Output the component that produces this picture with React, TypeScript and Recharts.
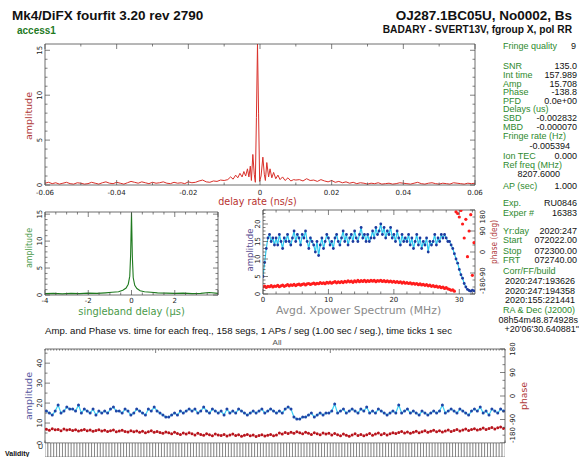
import React from "react";
import { LineChart, Line, XAxis, YAxis, BarChart, Bar } from "recharts";

// ---------- delay rate spectrum (top panel) ----------
const rateLeftStart = -0.06;
const rateRightStart = 0.01;
const rateStep = 0.001;
const rateAmpLeft = [
  0.2, 0.3, 0.15, 0.25, 0.1, 0.2, 0.3, 0.15, 0.1, 0.25,
  0.2, 0.1, 0.15, 0.3, 0.2, 0.1, 0.25, 0.35, 0.2, 0.15,
  0.3, 0.2, 0.1, 0.25, 0.4, 0.3, 0.2, 0.35, 0.25, 0.15,
  0.3, 0.2, 0.25, 0.35, 0.2, 0.15, 0.3, 0.2, 0.25, 0.15,
  0.35, 0.25, 0.3, 0.45, 0.55, 0.35, 0.3, 0.45, 0.4, 0.55,
  0.5,
];
const rateCoreX = [
  -0.009, -0.0082, -0.0075, -0.0068, -0.0062, -0.0056, -0.005, -0.0045, -0.004, -0.0035,
  -0.0031, -0.0027, -0.0024, -0.002, -0.0016, -0.0013, -0.001, -0.0007, -0.0004, -0.0001,
  0.0003, 0.0008, 0.0012, 0.0015, 0.0019, 0.0024, 0.0028, 0.0033, 0.0038, 0.0044,
  0.005, 0.0056, 0.0063, 0.007, 0.0078, 0.0086, 0.0094,
];
const rateCoreAmp = [
  0.6, 0.9, 0.65, 1.1, 0.8, 1.3, 0.9, 1.5, 1.0, 1.8,
  0.9, 2.1, 0.5, 3.4, 1.2, 0.3, 7.5, 15.7, 8.0, 0.4,
  1.0, 3.1, 1.2, 0.5, 2.5, 0.9, 1.8, 0.8, 1.4, 0.7,
  1.1, 0.6, 0.9, 0.5, 0.8, 0.45, 0.6,
];
const rateAmpRight = [
  0.55, 0.6, 0.45, 0.7, 0.5, 0.55, 0.4, 0.6, 0.45, 0.35,
  0.5, 0.3, 0.4, 0.25, 0.35, 0.2, 0.3, 0.15, 0.25, 0.2,
  0.1, 0.2, 0.15, 0.25, 0.1, 0.15, 0.2, 0.1, 0.15, 0.25,
  0.2, 0.15, 0.1, 0.2, 0.3, 0.15, 0.1, 0.2, 0.25, 0.15,
  0.1, 0.2, 0.15, 0.1, 0.25, 0.2, 0.15, 0.1, 0.2, 0.15,
  0.2,
];
const rateTicks = [-0.06, -0.05, -0.04, -0.03, -0.02, -0.01, 0, 0.01, 0.02, 0.03, 0.04, 0.05, 0.06];
const rateMajor = [-0.06, -0.04, -0.02, 0, 0.02, 0.04, 0.06];

// ---------- singleband delay (middle left) ----------
const sbdX = [
  -4, -3.6, -3.2, -2.8, -2.4, -2.0, -1.6, -1.2, -0.9, -0.6,
  -0.4, -0.25, -0.15, -0.08, -0.04, 0, 0.04, 0.08, 0.15, 0.25,
  0.4, 0.6, 0.9, 1.2, 1.6, 2.0, 2.4, 2.8, 3.2, 3.6, 4,
];
const sbdAmp = [
  0.25, 0.3, 0.2, 0.3, 0.25, 0.35, 0.3, 0.4, 0.5, 0.6,
  0.9, 1.3, 2.0, 3.5, 7.5, 15.3, 7.0, 3.2, 1.8, 1.2,
  0.8, 0.6, 0.5, 0.4, 0.35, 0.3, 0.35, 0.25, 0.3, 0.45, 0.3,
];
const sbdTicks = [-4, -3.5, -3, -2.5, -2, -1.5, -1, -0.5, 0, 0.5, 1, 1.5, 2, 2.5, 3, 3.5, 4];
const sbdMajor = [-4, -2, 0, 2, 4];
const sbdLabels = [-4, -2, 0, 2];
const amp15Ticks = [0, 1, 2, 3, 4, 5, 6, 7, 8, 9, 10, 11, 12, 13, 14, 15];
const amp15Major = [0, 5, 10, 15];

// ---------- cross power spectrum (middle right), 0.25 MHz steps ----------
const specStep = 0.25;
const specAmp = [
  5, 9, 13, 16, 17, 15, 16, 14,
  16, 14, 17, 15, 13, 16, 15, 17,
  15, 14, 16, 18, 15, 17, 16, 14,
  17, 16, 18, 15, 13, 16, 15, 14,
  12, 15, 11, 14, 16, 13, 15, 17,
  16, 14, 15, 13, 16, 17, 15, 14,
  16, 18, 15, 17, 14, 16, 17, 15,
  18, 16, 15, 17, 19, 16, 17, 15,
  17, 15, 16, 18, 16, 19, 17, 18,
  20, 17, 19, 16, 18, 17, 19, 16,
  17, 15, 18, 16, 14, 17, 15, 16,
  15, 17, 14, 16, 13, 15, 17, 14,
  16, 13, 15, 14, 16, 12, 15, 14,
  15, 17, 14, 16, 15, 17, 16, 17,
  16, 15, 15, 14, 13, 11.5, 10, 8.8,
  7, 5.5, 4.5, 3, 2, 1.3, 1, 0.8,
  1.1, 0.9,
];
const specPhase = [
  -150, -146, -152, -147, -149, -144, -150, -146,
  -147, -143, -149, -145, -142, -147, -144, -140,
  -145, -141, -143, -139, -144, -140, -138, -142,
  -139, -136, -141, -137, -135, -139, -136, -133,
  -138, -134, -136, -131, -135, -132, -136, -130,
  -133, -129, -134, -130, -127, -132, -128, -131,
  -127, -131, -126, -129, -124, -128, -125, -130,
  -124, -128, -122, -127, -123, -126, -121, -127,
  -123, -126, -121, -125, -122, -127, -123, -125,
  -121, -126, -123, -127, -124, -128, -125, -129,
  -126, -130, -127, -131, -128, -133, -129, -134,
  -131, -135, -132, -137, -134, -138, -135, -140,
  -137, -141, -139, -143, -140, -145, -142, -147,
  -144, -149, -146, -151, -148, -153, -150, -156,
  -153, -158, -160, -164, -162, -168, 172, 165,
  150, 178, 120, 60, 140, -20, 90, 160,
  -100, 40,
];
const mhzTicks = [0, 2, 4, 6, 8, 10, 12, 14, 16, 18, 20, 22, 24, 26, 28, 30, 32];
const mhzMajor = [0, 10, 20, 30];
const amp24Ticks = [0, 1, 2, 3, 4, 5, 6, 7, 8, 9, 10, 11, 12, 13, 14, 15, 16, 17, 18, 19, 20, 21, 22, 23, 24];
const amp24Major = [0, 5, 10, 15, 20];
const phaseTicks = [-180, -150, -120, -90, -60, -30, 0, 30, 60, 90, 120, 150, 180];
const phaseMajor = [-180, -90, 0, 90, 180];

// ---------- amplitude / phase per segment (bottom), 158 segs ----------
const segAmp = [
  16, 15, 14, 16, 19, 15, 16, 18, 17, 17,
  16, 19, 15, 17, 16, 15, 17, 14, 16, 15,
  16, 15, 17, 18, 16, 16, 15, 17, 16, 14,
  15, 17, 16, 15, 14, 17, 16, 18, 16, 15,
  14, 13, 13, 14, 15, 14, 16, 15, 16, 17,
  16, 17, 15, 16, 18, 16, 15, 17, 16, 15,
  16, 14, 17, 15, 16, 15, 17, 16, 15, 14,
  15, 16, 15, 16, 17, 15, 16, 17, 16, 15,
  16, 15, 17, 18, 17, 13, 12, 12, 13, 13,
  14, 15, 13, 14, 15, 14, 15, 15, 16, 19.5,
  15, 16, 17, 15, 16, 17, 16, 15, 17, 16,
  18, 15, 16, 15, 17, 16, 15, 14, 15, 16,
  15, 19, 15, 16, 17, 15, 16, 15, 14, 16,
  15, 14, 15, 16, 15, 16, 19, 15, 16, 17,
  16, 15, 17, 16, 15, 14, 16, 17, 16, 18,
  15, 16, 14, 17, 16, 15, 17, 16,
];
const segPhase = [
  -127, -131, -125, -129, -128, -133, -126, -130, -128, -132,
  -129, -134, -131, -128, -133, -130, -135, -132, -129, -134,
  -131, -136, -133, -130, -137, -134, -131, -136, -138, -133,
  -137, -134, -139, -135, -141, -137, -133, -139, -136, -140,
  -143, -138, -141, -145, -139, -144, -147, -142, -146, -141,
  -145, -149, -143, -147, -150, -145, -148, -152, -146, -149,
  -151, -147, -153, -149, -146, -151, -148, -154, -150, -147,
  -152, -149, -155, -151, -148, -153, -150, -147, -152, -149,
  -142, -146, -140, -144, -139, -143, -137, -141, -145, -139,
  -143, -147, -141, -145, -148, -142, -146, -143, -149, -144,
  -148, -152, -146, -150, -154, -149, -145, -151, -147, -152,
  -148, -144, -150, -146, -142, -148, -144, -149, -145, -141,
  -144, -140, -136, -142, -138, -143, -139, -135, -141, -137,
  -133, -139, -135, -131, -137, -133, -138, -134, -130, -136,
  -132, -128, -134, -130, -126, -132, -128, -125, -130, -127,
  -123, -128, -124, -121, -126, -122, -119, -124,
];
const validFlags =
  "1111111111" + "1111111111" + "1111111111" + "1111111111" + "1111111111" +
  "1111111111" + "1111111111" + "1111111111" + "1111111111" + "1111111111" +
  "1111111111" + "1111111111" + "1111111111" + "1111111111" + "1111111111" +
  "11111111";
const minuteTicks = [38, 98];
const amp47Ticks = [0, 5, 10, 15, 20, 25, 30, 35, 40, 45];
const amp47Major = [0, 10, 20, 30, 40];

// ---------- text panel ----------
const panelLabels = [
  "Fringe quality", "SNR", "Int time", "Amp", "Phase", "PFD", "Delays (us)", "SBD", "MBD",
  "Fringe rate (Hz)", "", "Ion TEC", "Ref freq (MHz)", "", "AP (sec)", "Exp.", "Exper #",
  "Yr:day", "Start", "Stop", "FRT", "Corr/FF/build", "", "", "", "RA & Dec (J2000)", "", "",
];
const panelValues = [
  "9", "135.0", "157.989", "15.708", "-138.8", "0.0e+00", "", "-0.002832", "-0.000070",
  "", "-0.005394", "0.000", "", "8207.6000", "1.000", "RU0846", "16383",
  "2020:247", "072022.00", "072300.00", "072740.00", "", "2020:247:193626", "2020:247:194358",
  "2020:155:221441", "", "08h54m48.874928s", "+20'06'30.640881\"",
];
const panelY = [
  48.5, 68.5, 77.5, 86.5, 95, 103.5, 112, 120.5, 129.5, 139, 148.5, 158.5, 167.5, 176.5,
  188.5, 205.5, 215.5, 234, 242.5, 254, 263, 273.5, 283.5, 293.5, 303, 313, 322.5, 332,
];
const panelRight = [
  576, 577, 577, 577, 577, 577, 577, 577, 577, 577, 570, 577, 577, 560,
  577, 577, 577, 577, 577, 577, 577, 577, 575, 575, 575, 577, 578, 579,
];

const rateData = [
  ...rateAmpLeft.map((a, i) => ({ x: rateLeftStart + i * rateStep, amp: a })),
  ...rateCoreX.map((x, i) => ({ x, amp: rateCoreAmp[i] })),
  ...rateAmpRight.map((a, i) => ({ x: rateRightStart + i * rateStep, amp: a })),
];
const sbdData = sbdX.map((x, i) => ({ x, amp: sbdAmp[i] }));
const specData = specAmp.map((a, i) => ({ x: i * specStep, amp: a, ph: specPhase[i] }));
const segData = segAmp.map((a, i) => ({ x: i + 0.5, amp: a, ph: segPhase[i] }));
const validData = validFlags.split("").map((f, i) => ({ seg: i, ok: Number(f) }));
const segTicks = segAmp.map((_, i) => i).concat([158]);

const AXIS = "#4a4a4a";
const TICKFONT = "'DejaVu Sans', sans-serif";
const SANS = "'Liberation Sans', Arial, sans-serif";

const near = (arr: number[], v: number) => arr.some((m) => Math.abs(m - v) < 1e-9);

// draws an inward tick (major or minor) and, for labelled values, the tick label
function tickFactory(
  side: string,
  majors: number[],
  labels: number[] = [],
  gap = 9,
  majorLen = 5,
  minorLen = 2.5,
  edges: { lo?: number; hi?: number } = {}
) {
  return (props: any) => {
    const { x, y, payload } = props;
    const v = Number(payload.value);
    const len = near(majors, v) ? majorLen : minorLen;
    let x2 = x;
    let y2 = y;
    if (side === "bottom") y2 = y - len;
    if (side === "top") y2 = y + len;
    if (side === "left") x2 = x + len;
    if (side === "right") x2 = x - len;
    let label = null;
    if (near(labels, v)) {
      const s = String(v);
      let anchor: "middle" | "start" | "end" = "middle";
      if (edges.lo !== undefined && v === edges.lo) anchor = "start";
      if (edges.hi !== undefined && v === edges.hi) anchor = "end";
      const common = { fontSize: 7, fontFamily: TICKFONT, fill: "#222", textAnchor: anchor };
      if (side === "bottom") label = <text x={x} y={y + gap} {...common}>{s}</text>;
      if (side === "left")
        label = <text transform={`translate(${x - 3},${y}) rotate(-90)`} {...common}>{s}</text>;
      if (side === "right")
        label = <text transform={`translate(${x + 10},${y}) rotate(-90)`} {...common}>{s}</text>;
    }
    return (
      <g>
        <line x1={x} y1={y} x2={x2} y2={y2} stroke={AXIS} strokeWidth={0.7} />
        {label}
      </g>
    );
  };
}

type Rect = { l: number; t: number; r: number; b: number };
type Pad = { l: number; t: number; r: number; b: number };
// axes take the padding as their own size (an axis of size 0 is not drawn)
const frame = (r: Rect, p: Pad) => ({
  style: { position: "absolute" as const, left: r.l - p.l, top: r.t - p.t },
  width: r.r - r.l + p.l + p.r,
  height: r.b - r.t + p.t + p.b,
  pad: p,
});
const noMargin = { left: 0, top: 0, right: 0, bottom: 0 };

const axisBase = { tickSize: 0, tickMargin: 0, tickLine: false, interval: 0 as const, allowDataOverflow: true, axisLine: { stroke: AXIS, strokeWidth: 0.8 } };

const TOP: Rect = { l: 45, t: 44, r: 475, b: 185 };
const MIDL: Rect = { l: 45, t: 212, r: 218, b: 295 };
const MIDR: Rect = { l: 263, t: 210, r: 475, b: 294 };
const BOT: Rect = { l: 45, t: 349, r: 505, b: 443 };
const STRIP: Rect = { l: 45, t: 443, r: 505, b: 457 };

function RotText({ x, y, len, color, size, children }: any) {
  return (
    <text
      transform={`translate(${x},${y}) rotate(-90)`}
      textAnchor="middle"
      fontFamily={TICKFONT}
      fontSize={size}
      fill={color}
      textLength={len}
      lengthAdjust="spacingAndGlyphs"
    >
      {children}
    </text>
  );
}

// horizontal axis title as html, centred on cx; top = baseline - 0.846em (DejaVu, line-height 1)
function Title({ cx, base, size, color, children }: any) {
  return (
    <div
      style={{
        position: "absolute",
        left: cx,
        top: base - 0.846 * size,
        transform: "translateX(-50%)",
        fontFamily: TICKFONT,
        fontSize: size,
        lineHeight: 1,
        color,
        whiteSpace: "nowrap",
      }}
    >
      {children}
    </div>
  );
}

export default function App() {
  const fTop = frame(TOP, { l: 16, t: 2, r: 12, b: 14 });
  const fMidL = frame(MIDL, { l: 16, t: 2, r: 4, b: 14 });
  const fMidR = frame(MIDR, { l: 16, t: 2, r: 16, b: 14 });
  const fBot = frame(BOT, { l: 16, t: 7, r: 16, b: 2 });
  const fStrip = frame(STRIP, { l: 0, t: 0, r: 0, b: 0 });

  return (
    <div style={{ position: "absolute", left: 0, top: 0, width: 579, height: 457, background: "#fff", overflow: "hidden" }}>
      {/* delay rate */}
      <div style={fTop.style}>
        <LineChart width={fTop.width} height={fTop.height} data={rateData} margin={noMargin}>
          <XAxis xAxisId="b" type="number" dataKey="x" domain={[-0.06, 0.06]} ticks={rateTicks} height={fTop.pad.b} {...axisBase}
            tick={tickFactory("bottom", rateMajor, rateMajor, 10)} />
          <XAxis xAxisId="t" orientation="top" type="number" dataKey="x" domain={[-0.06, 0.06]} ticks={rateTicks} height={fTop.pad.t} {...axisBase}
            tick={tickFactory("top", rateMajor)} />
          <YAxis yAxisId="l" type="number" domain={[0, 15.7]} ticks={amp15Ticks} width={fTop.pad.l} {...axisBase}
            tick={tickFactory("left", amp15Major, amp15Major)} />
          <YAxis yAxisId="r" orientation="right" type="number" domain={[0, 15.7]} ticks={amp15Ticks} width={fTop.pad.r} {...axisBase}
            tick={tickFactory("right", amp15Major)} />
          <Line xAxisId="b" yAxisId="l" dataKey="amp" stroke="#d9302a" strokeWidth={1} dot={false} activeDot={false} isAnimationActive={false} />
        </LineChart>
      </div>

      {/* singleband delay */}
      <div style={fMidL.style}>
        <LineChart width={fMidL.width} height={fMidL.height} data={sbdData} margin={noMargin}>
          <XAxis xAxisId="b" type="number" dataKey="x" domain={[-4, 4]} ticks={sbdTicks} height={fMidL.pad.b} {...axisBase}
            tick={tickFactory("bottom", sbdMajor, sbdLabels, 8)} />
          <XAxis xAxisId="t" orientation="top" type="number" dataKey="x" domain={[-4, 4]} ticks={sbdTicks} height={fMidL.pad.t} {...axisBase}
            tick={tickFactory("top", sbdMajor)} />
          <YAxis yAxisId="l" type="number" domain={[0, 15.4]} ticks={amp15Ticks} width={fMidL.pad.l} {...axisBase}
            tick={tickFactory("left", amp15Major, amp15Major)} />
          <YAxis yAxisId="r" orientation="right" type="number" domain={[0, 15.4]} ticks={amp15Ticks} width={fMidL.pad.r} {...axisBase}
            tick={tickFactory("right", amp15Major)} />
          <Line xAxisId="b" yAxisId="l" dataKey="amp" stroke="#1f7a1f" strokeWidth={1.1} dot={false} activeDot={false} isAnimationActive={false} />
        </LineChart>
      </div>

      {/* xpower spectrum */}
      <div style={fMidR.style}>
        <LineChart width={fMidR.width} height={fMidR.height} data={specData} margin={noMargin}>
          <XAxis xAxisId="b" type="number" dataKey="x" domain={[0, 32.4]} ticks={mhzTicks} height={fMidR.pad.b} {...axisBase}
            tick={tickFactory("bottom", mhzMajor, mhzMajor, 8)} />
          <XAxis xAxisId="t" orientation="top" type="number" dataKey="x" domain={[0, 32.4]} ticks={mhzTicks} height={fMidR.pad.t} {...axisBase}
            tick={tickFactory("top", mhzMajor)} />
          <YAxis yAxisId="l" type="number" domain={[0, 24]} ticks={amp24Ticks} width={fMidR.pad.l} {...axisBase}
            tick={tickFactory("left", amp24Major, amp24Major)} />
          <YAxis yAxisId="r" orientation="right" type="number" domain={[-180, 180]} ticks={phaseTicks} width={fMidR.pad.r} {...axisBase}
            tick={tickFactory("right", phaseMajor, phaseMajor, 9, 5, 2.5, { lo: -180, hi: 180 })} />
          <Line xAxisId="b" yAxisId="l" dataKey="amp" stroke="#2fc8ee" strokeWidth={1.2}
            dot={{ r: 1.4, fill: "#1d3a9e", stroke: "none" }} activeDot={false} isAnimationActive={false} />
          <Line xAxisId="b" yAxisId="r" dataKey="ph" stroke="none"
            dot={{ r: 1.6, fill: "#ff1c1c", stroke: "none" }} activeDot={false} isAnimationActive={false} />
        </LineChart>
      </div>

      {/* amp & phase vs time */}
      <div style={fBot.style}>
        <LineChart width={fBot.width} height={fBot.height} data={segData} margin={noMargin}>
          <XAxis xAxisId="b" type="number" dataKey="x" domain={[0, 158]} ticks={[0, 158]} height={fBot.pad.b} {...axisBase}
            tick={tickFactory("bottom", [])} />
          <XAxis xAxisId="t" orientation="top" type="number" dataKey="x" domain={[0, 158]} ticks={segTicks} height={fBot.pad.t} {...axisBase}
            tick={tickFactory("top", minuteTicks, [], 0, 4, 1.6)} />
          <YAxis yAxisId="l" type="number" domain={[0, 47.1]} ticks={amp47Ticks} width={fBot.pad.l} {...axisBase}
            tick={tickFactory("left", amp47Major, amp47Major)} />
          <YAxis yAxisId="r" orientation="right" type="number" domain={[-180, 180]} ticks={phaseTicks} width={fBot.pad.r} {...axisBase}
            tick={tickFactory("right", phaseMajor, phaseMajor, 9, 5, 2.5, { lo: -180 })} />
          <Line xAxisId="b" yAxisId="l" dataKey="amp" stroke="#3dd2f4" strokeWidth={1.2}
            dot={{ r: 1.5, fill: "#1f45a6", stroke: "none" }} activeDot={false} isAnimationActive={false} />
          <Line xAxisId="b" yAxisId="r" dataKey="ph" stroke="none"
            dot={{ r: 1.5, fill: "#b8141c", stroke: "none" }} activeDot={false} isAnimationActive={false} />
        </LineChart>
      </div>

      {/* validity strip */}
      <div style={fStrip.style}>
        <BarChart width={fStrip.width} height={fStrip.height} data={validData} margin={noMargin} barCategoryGap={0}>
          <XAxis dataKey="seg" hide />
          <YAxis domain={[0, 1]} hide />
          <Bar dataKey="ok" fill="#fff" stroke="#555" strokeWidth={0.6} isAnimationActive={false} />
        </BarChart>
      </div>

      {/* axis titles under the plots */}
      <Title cx={257.5} base={205} size={9.6} color="#b8322f">delay rate (ns/s)</Title>
      <Title cx={131.5} base={315} size={9.9} color="#4a9a4a">singleband delay (μs)</Title>
      <Title cx={358.5} base={315} size={10.8} color="#8a8a8a">Avgd. Xpower Spectrum (MHz)</Title>

      {/* other texts */}
      <svg width={579} height={457} style={{ position: "absolute", left: 0, top: 0, pointerEvents: "none" }}>
        <text x={12} y={20} fontFamily={SANS} fontWeight="bold" fontSize={13.5} fill="#111">Mk4/DiFX fourfit 3.20 rev 2790</text>
        <text x={17} y={34} fontFamily={SANS} fontWeight="bold" fontSize={10} fill="#1f7a1f">access1</text>
        <text x={572} y={20} textAnchor="end" fontFamily={SANS} fontWeight="bold" fontSize={13.5} fill="#111">OJ287.1BC05U, No0002, Bs</text>
        <text x={572} y={33} textAnchor="end" fontFamily={SANS} fontWeight="bold" fontSize={10.2} fill="#111">BADARY - SVERT13V, fgroup X, pol RR</text>

        {panelLabels.map((s, i) =>
          s ? (
            <text key={"l" + i} x={503} y={panelY[i]} fontFamily={SANS} fontSize={9} fill="#2e8a2e">{s}</text>
          ) : null
        )}
        {panelValues.map((s, i) =>
          s ? (
            <text key={"v" + i} x={panelRight[i]} y={panelY[i]} textAnchor="end" fontFamily={SANS} fontSize={9} fill="#111">{s}</text>
          ) : null
        )}

        <RotText x={32} y={116} len={48} color="#b03a3a" size={9}>amplitude</RotText>
        <RotText x={32} y={248} len={40} color="#4a9a4a" size={8.5}>amplitude</RotText>
        <RotText x={253} y={250} len={43} color="#5a4e92" size={8.5}>amplitude</RotText>
        <RotText x={497} y={242} len={44} color="#b03a3a" size={8.5}>phase (deg)</RotText>

        <text x={45} y={334} fontFamily={SANS} fontSize={9} fill="#111" textLength={407} lengthAdjust="spacingAndGlyphs">
          Amp. and Phase vs. time for each freq., 158 segs, 1 APs / seg (1.00 sec / seg.), time ticks 1 sec
        </text>
        <text x={277} y={345} textAnchor="middle" fontFamily={SANS} fontSize={8} fill="#555">All</text>

        <RotText x={32} y={396} len={48} color="#5757a0" size={9}>amplitude</RotText>
        <RotText x={527} y={396} len={28} color="#b03a3a" size={9}>phase</RotText>

        <text x={38} y={449} fontFamily={SANS} fontSize={7} fill="#222">U</text>
        <text x={5} y={456} fontFamily={SANS} fontWeight="bold" fontSize={7} fill="#111">Validity</text>
      </svg>
    </div>
  );
}
